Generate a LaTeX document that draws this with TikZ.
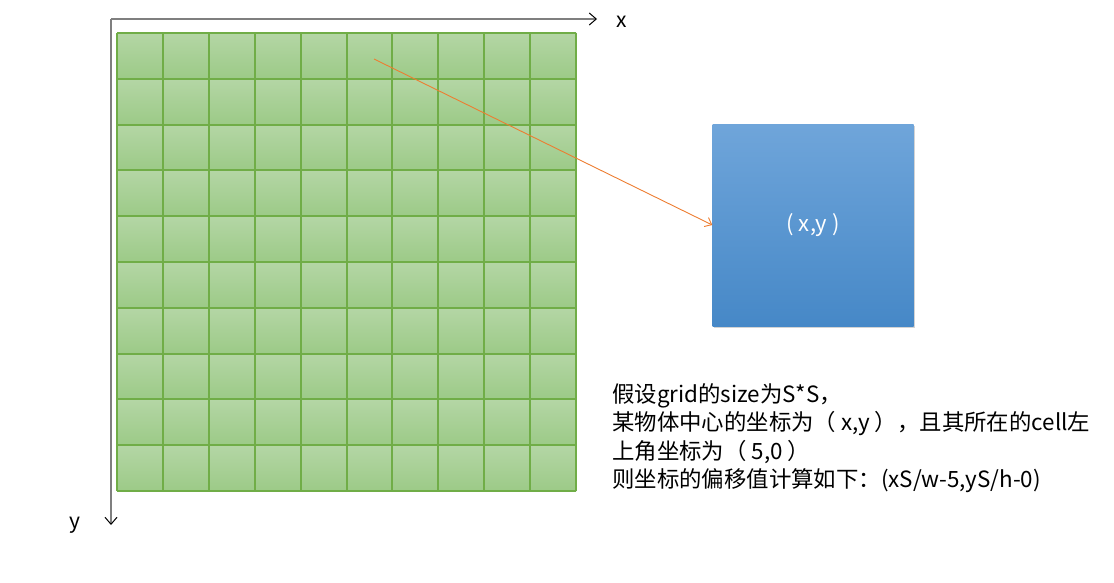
\documentclass[tikz,border=0pt]{standalone}
\usepackage{fontspec}
\setmainfont{Noto Sans CJK SC}
\usetikzlibrary{arrows.meta,shadows}
\definecolor{gridline}{HTML}{70AD47}
\definecolor{celltop}{HTML}{B4D6A5}
\definecolor{cellbot}{HTML}{9CCA87}
\definecolor{boxtop}{HTML}{6FA5DA}
\definecolor{boxbot}{HTML}{4688C7}
\definecolor{axisgray}{HTML}{7F7F7F}
\definecolor{arrorange}{HTML}{ED7D31}
\tikzset{
  axisline/.style={draw=axisgray, line width=1.6pt, -{Straight Barb[length=7pt,width=12pt,line width=1pt,color=black]}},
  axislabel/.style={font=\fontsize{21}{24}\selectfont},
  cellshade/.style={top color=celltop, bottom color=cellbot, draw=none},
  blockbox/.style={minimum width=201pt, minimum height=201pt, top color=boxtop, bottom color=boxbot,
    draw=none, inner sep=0pt, text=white, font=\fontsize{22}{24}\selectfont,
    drop shadow={shadow xshift=1.5pt, shadow yshift=-1.5pt, opacity=0.35}},
  pointer/.style={draw=arrorange, line width=0.9pt, -{Straight Barb[length=6pt,width=10pt,line width=0.9pt]}},
  note/.style={align=left, anchor=north west, inner sep=0pt, font=\fontsize{22.4}{28.5}\selectfont}
}
\begin{document}
\begin{tikzpicture}[x=1pt,y=-1pt]
\useasboundingbox (0,0) rectangle (1114,583);
% grid cells
\foreach \i in {0,...,9}{
  \foreach \j in {0,...,9}{
    \shade[cellshade] ({117+45.9*\i},{33+45.8*\j}) rectangle ({117+45.9*(\i+1)},{33+45.8*(\j+1)});
  }
}
\foreach \i in {0,...,10}{
  \draw[gridline, line width=2pt] ({117+45.9*\i},33) -- ({117+45.9*\i},491);
  \draw[gridline, line width=2pt] (117,{33+45.8*\i}) -- (576,{33+45.8*\i});
}
% axes
\coordinate (origin) at (111,19);
\coordinate (xend) at (597,19);
\coordinate (yend) at (111,525);
\draw[axisline] (origin) -- (xend);
\draw[axisline] (origin) -- (yend);
\node[axislabel] (xlab) at (622,22) {x};
\node[axislabel] (ylab) at (75,525) {y};
% box
\node[blockbox] (box) at (813,225.5) {( x,y )};
% pointer
\coordinate (obj) at (374,59);
\draw[pointer] (obj) -- (box.west |- 0,225);
% note
\node[note] (txt) at (612,383) {假设grid的size为S*S，\\某物体中心的坐标为（ x,y ），且其所在的cell左\\上角坐标为（ 5,0 ）\\则坐标的偏移值计算如下：(xS/w-5,yS/h-0)};
\end{tikzpicture}
\end{document}
